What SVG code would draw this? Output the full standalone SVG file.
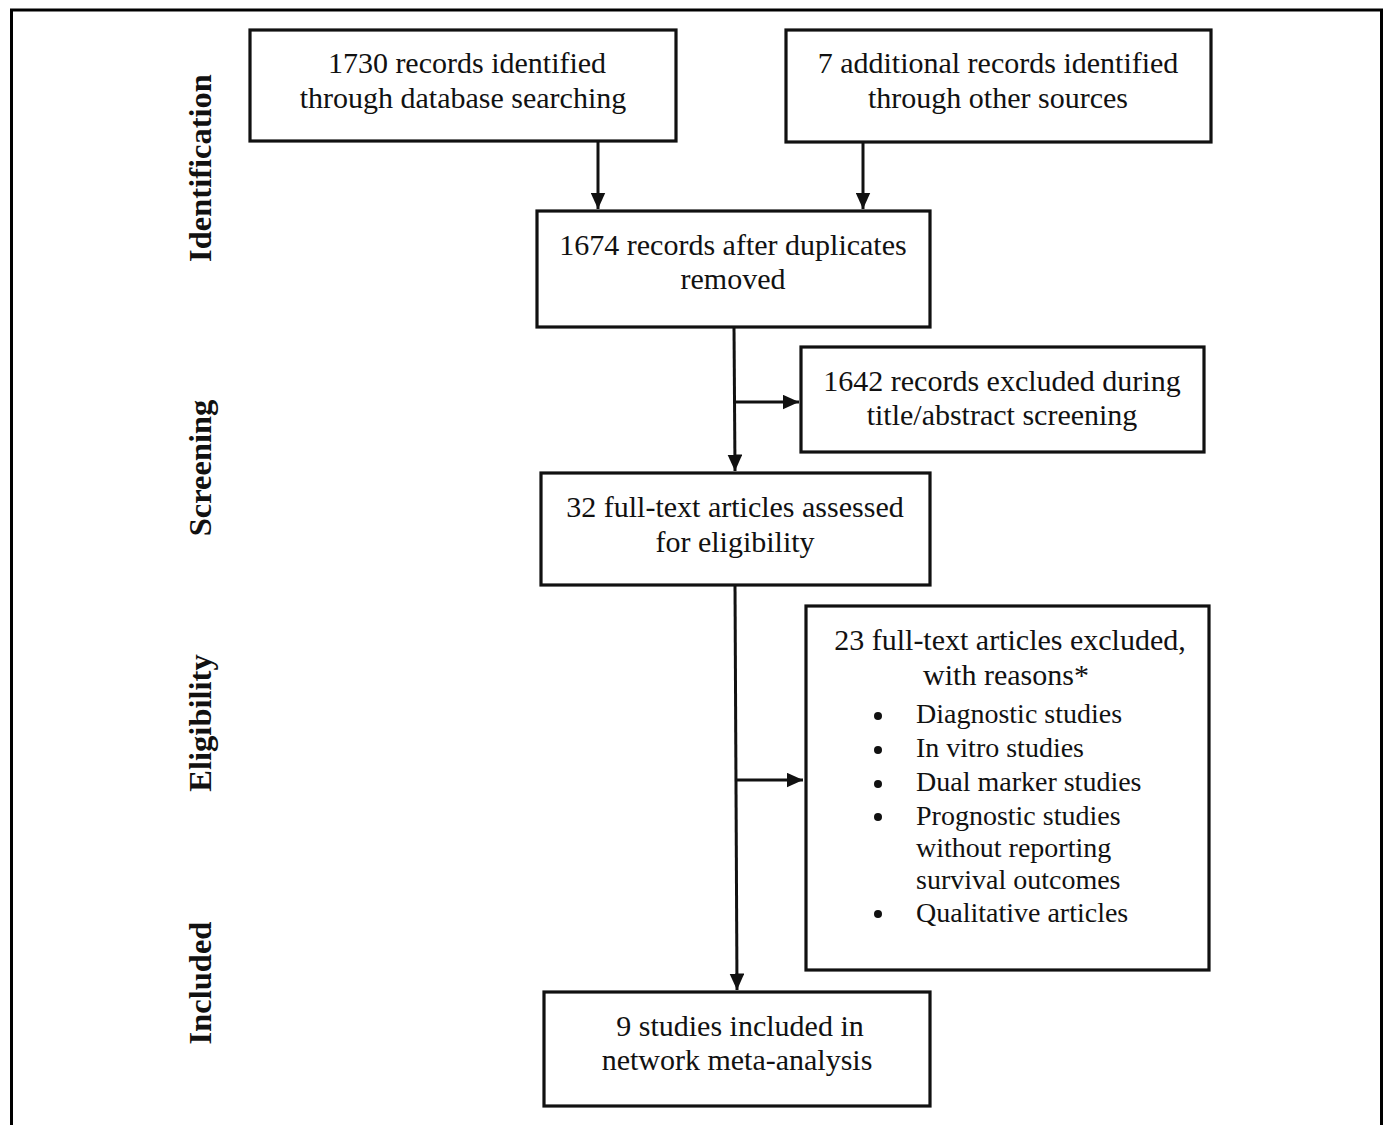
<svg xmlns="http://www.w3.org/2000/svg" width="1386" height="1125" viewBox="0 0 1386 1125">
<style>
.box{fill:#fff;stroke:#111;stroke-width:3.2}
.t{font-family:"Liberation Serif","Times New Roman",serif;font-size:30px;fill:#111;text-anchor:middle}
.tl{font-family:"Liberation Serif","Times New Roman",serif;font-size:28px;fill:#111}
.lab{font-family:"Liberation Serif","Times New Roman",serif;font-size:32.5px;font-weight:bold;fill:#111;text-anchor:middle}
.c{stroke:#111;stroke-width:3;fill:none}
</style>
<defs>
<marker id="ah" viewBox="0 0 10 9" refX="10" refY="4.5" markerWidth="5.5" markerHeight="5" markerUnits="strokeWidth" orient="auto">
<path d="M0,0 L10,4.5 L0,9 Z" fill="#111"/>
</marker>
</defs>
<rect x="0" y="0" width="1386" height="1125" fill="#fff"/>
<path d="M11.5,1125 V10 H1381.5 V1125" fill="none" stroke="#000" stroke-width="3"/>
<g id="labels">
<text class="lab" transform="translate(211,168) rotate(-90)">Identification</text>
<text class="lab" transform="translate(211,468) rotate(-90)">Screening</text>
<text class="lab" transform="translate(211,723) rotate(-90)">Eligibility</text>
<text class="lab" transform="translate(211,983) rotate(-90)">Included</text>
</g>
<g id="connectors">
<line class="c" x1="598" y1="142" x2="598" y2="209" marker-end="url(#ah)"/>
<line class="c" x1="863" y1="143" x2="863" y2="209" marker-end="url(#ah)"/>
<line class="c" x1="734" y1="327" x2="735" y2="471" marker-end="url(#ah)"/>
<line class="c" x1="735" y1="402" x2="799" y2="402" marker-end="url(#ah)"/>
<line class="c" x1="735" y1="585" x2="737" y2="990" marker-end="url(#ah)"/>
<line class="c" x1="736" y1="780" x2="803" y2="780" marker-end="url(#ah)"/>
</g>
<g id="n1"><rect class="box" x="250" y="30" width="426" height="111"/>
<text class="t" x="467" y="73">1730 records identified</text>
<text class="t" x="463" y="108">through database searching</text></g>
<g id="n2"><rect class="box" x="786" y="30" width="425" height="112"/>
<text class="t" x="998" y="73">7 additional records identified</text>
<text class="t" x="998" y="108">through other sources</text></g>
<g id="n3"><rect class="box" x="537" y="211" width="393" height="116"/>
<text class="t" x="733" y="255">1674 records after duplicates</text>
<text class="t" x="733" y="289">removed</text></g>
<g id="n4"><rect class="box" x="801" y="347" width="403" height="105"/>
<text class="t" x="1002" y="391">1642 records excluded during</text>
<text class="t" x="1002" y="425">title/abstract screening</text></g>
<g id="n5"><rect class="box" x="541" y="473" width="389" height="112"/>
<text class="t" x="735" y="517">32 full-text articles assessed</text>
<text class="t" x="735" y="552">for eligibility</text></g>
<g id="n6"><rect class="box" x="806" y="606" width="403" height="364"/>
<text class="t" x="1010" y="650">23 full-text articles excluded,</text>
<text class="t" x="1006" y="685">with reasons*</text>
<g class="tl">
<circle cx="878" cy="716" r="4" fill="#111"/><text x="916" y="723">Diagnostic studies</text>
<circle cx="878" cy="750" r="4" fill="#111"/><text x="916" y="757">In vitro studies</text>
<circle cx="878" cy="784" r="4" fill="#111"/><text x="916" y="791">Dual marker studies</text>
<circle cx="878" cy="817" r="4" fill="#111"/><text x="916" y="825">Prognostic studies</text>
<text x="916" y="857">without reporting</text>
<text x="916" y="889">survival outcomes</text>
<circle cx="878" cy="914" r="4" fill="#111"/><text x="916" y="922">Qualitative articles</text>
</g></g>
<g id="n7"><rect class="box" x="544" y="992" width="386" height="114"/>
<text class="t" x="740" y="1036">9 studies included in</text>
<text class="t" x="737" y="1070">network meta-analysis</text></g>
</svg>
